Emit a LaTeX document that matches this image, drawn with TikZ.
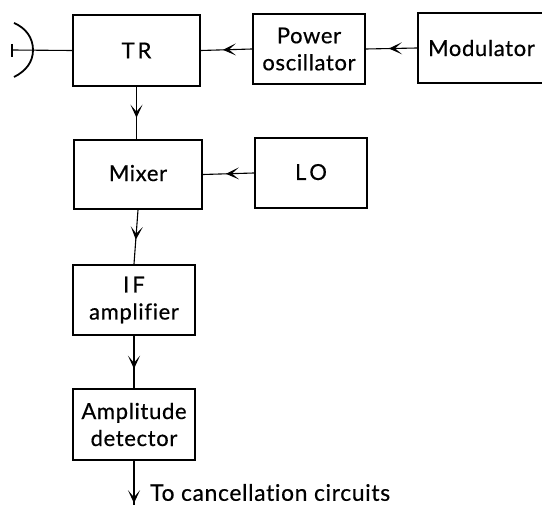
\documentclass[tikz,border=0pt]{standalone}
\usepackage{fontspec}
\setmainfont{Lato}[LetterSpace=3,RawFeature={-liga},FakeBold=0.5]
\usetikzlibrary{arrows.meta,decorations.markings}
\tikzset{
  blockbox/.style={draw=black,line width=2pt,fill=white,rectangle,inner sep=0pt,align=center,font=\fontsize{22}{27}\selectfont},
  wire/.style={draw=black,line width=1.1pt},
  tipat/.style={postaction={decorate},decoration={markings,mark=at position #1 with {\arrow[line width=1.1pt]{Stealth[length=13pt,width=12pt,inset=7pt]}}}},
  plainlabel/.style={inner sep=0pt,font=\fontsize{22.8}{27}\selectfont}
}
\begin{document}
\begin{tikzpicture}[x=1pt,y=-1pt]
\useasboundingbox (0,0) rectangle (542,505);
\clip (0,0) rectangle (542,505);
\node[blockbox,minimum width=127pt,minimum height=71pt] (tr) at (136.5,50.5) {T\kern3pt R};
\node[blockbox,minimum width=112pt,minimum height=70pt] (po) at (309,49) {Power\\oscillator};
\node[blockbox,minimum width=127pt,minimum height=70pt] (mod) at (481.5,48) {Modulator};
\node[blockbox,minimum width=128pt,minimum height=69pt,text depth=3pt] (mix) at (138,174.5) {Mixer};
\node[blockbox,minimum width=112pt,minimum height=70pt,text depth=2pt] (lo) at (311,173) {L\kern3pt O};
\node[blockbox,minimum width=122pt,minimum height=70pt] (if) at (134,300) {I\kern3pt F\\amplifier};
\node[blockbox,minimum width=122pt,minimum height=71pt] (amp) at (134,424.5) {Amplitude\\detector};
\coordinate (out) at (134,505);
\coordinate (dishtop) at (14,23);
\coordinate (dishbot) at (14,77);
\coordinate (feed) at (12,50);
\coordinate (feedtop) at (12,44);
\coordinate (feedbot) at (12,57);
\node[plainlabel,anchor=west] (lbl) at (150,492.5) {To cancellation circuits};
\draw[line width=1.8pt] (dishtop) .. controls (26,28) and (33,38) .. (33,50) .. controls (33,62) and (26,71) .. (dishbot);
\draw[line width=2pt] (feedtop) -- (feedbot);
\draw[wire] (feed) -- (tr.west);
\draw[wire,tipat=0.57] (po.west) -- (tr.east);
\draw[wire,tipat=0.55] (mod.west) -- (po.east);
\draw[wire,tipat=0.55] (lo.west) -- (mix.east);
\draw[wire,tipat=0.59] (tr.south) -- (tr.south |- mix.north);
\draw[wire,tipat=0.55] (mix.south) -- (if.north);
\draw[wire,tipat=0.63] (if.south) -- (amp.north);
\draw[wire,tipat=0.96] (amp.south) -- (out);
\end{tikzpicture}
\end{document}
